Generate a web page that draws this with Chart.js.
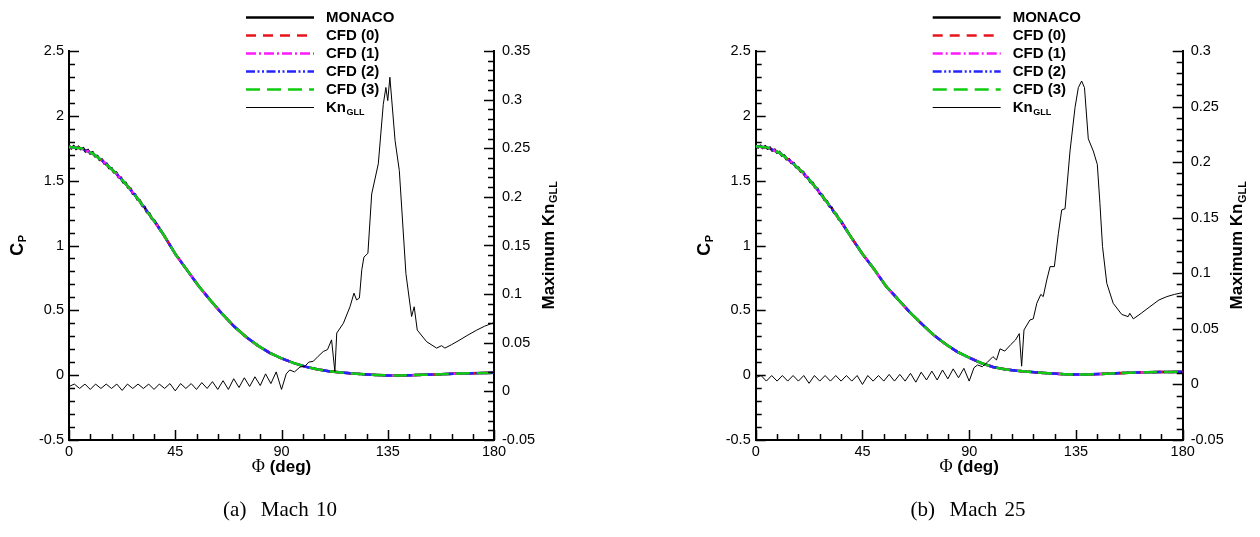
<!DOCTYPE html>
<html>
<head>
<meta charset="utf-8">
<script src="https://cdn.jsdelivr.net/npm/chart.js@4.4.1/dist/chart.umd.min.js"></script>
<style>
  html, body { margin: 0; padding: 0; background: #fff; }
  body { width: 1260px; height: 537px; position: relative; overflow: hidden; }
  .panel { position: absolute; top: 0; width: 630px; height: 537px; }
  #panelA { left: 0; }
  #panelB { left: 630px; }
  .caption { position: absolute; top: 497px; width: 260px; text-align: center; line-height: 26px;
             font: 21px 'Liberation Serif', 'DejaVu Serif', serif; color: #000; word-spacing: 2px; }
</style>
</head>
<body>
<div class="panel" id="panelA"><canvas id="chartA" width="630" height="537"></canvas></div>
<div class="panel" id="panelB"><canvas id="chartB" width="630" height="537"></canvas></div>
<div class="caption" style="left:150px">(a)&nbsp; Mach 10</div>
<div class="caption" style="left:838px">(b)&nbsp; Mach 25</div>
<script>
// surface angle for the CFD pressure curves (deg)
const phiCp = [0, 5, 10, 15, 20, 25, 30, 35, 40, 45, 50, 55, 60, 65, 70, 75, 80, 85, 90,
    95, 100, 105, 110, 115, 120, 125, 130, 135, 140, 145, 150, 155, 160, 165, 170, 175, 180];

const cpMach10 = [1.76, 1.75, 1.71, 1.64, 1.555, 1.455, 1.34, 1.215, 1.085, 0.935, 0.81, 0.685,
    0.575, 0.47, 0.375, 0.295, 0.228, 0.172, 0.13, 0.095, 0.066, 0.045, 0.031, 0.021, 0.013,
    0.007, 0.002, -0.002, -0.002, 0.0, 0.003, 0.006, 0.009, 0.012, 0.014, 0.016, 0.018];

const cpMach25 = [1.765, 1.755, 1.715, 1.645, 1.56, 1.455, 1.335, 1.21, 1.07, 0.935, 0.815, 0.685,
    0.585, 0.485, 0.395, 0.31, 0.24, 0.18, 0.135, 0.094, 0.063, 0.045, 0.034, 0.026, 0.019,
    0.013, 0.008, 0.005, 0.006, 0.009, 0.013, 0.017, 0.02, 0.022, 0.024, 0.025, 0.026];

// MONACO (DSMC) is a bit noisy near the stagnation point, sampled every degree there
const phiMonacoHead = [0, 1, 2, 3, 4, 5, 6, 7, 8, 9, 10, 11, 12, 13, 14, 15, 16, 17, 18,
    19, 20, 21, 22, 23, 24, 25, 26, 27, 28, 29, 30, 31, 32, 33, 34, 35, 36];

const monacoHead10 = [1.768, 1.75, 1.765, 1.746, 1.761, 1.743, 1.75, 1.726, 1.735, 1.71,
    1.718, 1.688, 1.69, 1.66, 1.663, 1.632, 1.631, 1.598, 1.597, 1.564, 1.563, 1.527, 1.523,
    1.487, 1.483, 1.447, 1.44, 1.401, 1.394, 1.355, 1.348, 1.308, 1.297, 1.258, 1.247, 1.209, 1.195];

const monacoHead25 = [1.773, 1.756, 1.769, 1.752, 1.764, 1.748, 1.754, 1.732, 1.738, 1.716,
    1.722, 1.694, 1.694, 1.666, 1.666, 1.638, 1.635, 1.604, 1.601, 1.57, 1.567, 1.532, 1.525,
    1.49, 1.483, 1.448, 1.438, 1.4, 1.39, 1.352, 1.342, 1.303, 1.292, 1.253, 1.242, 1.203, 1.188];

// maximum gradient-length Knudsen number (right axis)
const phiKn10 = [0, 2.25, 4.5, 6.75, 9, 11.25, 13.5, 15.75, 18, 20.25, 22.5, 24.75, 27, 29.25,
    31.5, 33.75, 36, 38.25, 40.5, 42.75, 45, 47.25, 49.5, 51.75, 54, 56.25, 58.5, 60.75, 63,
    65.25, 67.5, 69.75, 72, 74.25, 76.5, 78.75, 81, 83.25, 85.5, 87.75, 90, 92, 93.5, 95.5,
    97.8, 100, 101.5, 103.5, 105.5, 107.7, 109.5, 111.2, 112.6, 113.4, 116.2, 119, 120.7,
    121.8, 123, 124, 124.9, 126.6, 128.2, 131, 133.1, 134.2, 135, 135.9, 138.1, 139.9, 142.7,
    145.1, 146.2, 147.5, 151.5, 155.7, 157.8, 159.2, 162, 165.6, 169, 172.7, 176, 180];

const knMach10 = [0.005, 0.0075, 0.003, 0.0075, 0.002, 0.0075, 0.003, 0.0075, 0.003, 0.0075,
    0.001, 0.0075, 0.003, 0.0075, 0.003, 0.0075, 0.002, 0.0075, 0.003, 0.008, 0.0005, 0.008,
    0.003, 0.008, 0.002, 0.009, 0.003, 0.01, 0.002, 0.011, 0.002, 0.013, 0.004, 0.014, 0.005,
    0.015, 0.006, 0.018, 0.008, 0.02, 0.002, 0.018, 0.022, 0.02, 0.025, 0.026, 0.03, 0.031,
    0.036, 0.041, 0.043, 0.053, 0.0205, 0.06, 0.07, 0.087, 0.101, 0.094, 0.096, 0.125, 0.138,
    0.142, 0.203, 0.234, 0.295, 0.3125, 0.299, 0.323, 0.258, 0.227, 0.121, 0.077, 0.087,
    0.063, 0.051, 0.0445, 0.047, 0.0445, 0.048, 0.053, 0.058, 0.063, 0.067, 0.0707];

const phiKn25 = [0, 2.25, 4.5, 6.75, 9, 11.25, 13.5, 15.75, 18, 20.25, 22.5, 24.75, 27, 29.25,
    31.5, 33.75, 36, 38.25, 40.5, 42.75, 45, 47.25, 49.5, 51.75, 54, 56.25, 58.5, 60.75, 63,
    65.25, 67.5, 69.75, 72, 74.25, 76.5, 78.75, 81, 83.25, 85.5, 87.75, 90, 92, 93.5, 95.5,
    97.7, 100, 101.5, 103, 105, 107.6, 109.5, 111.1, 112.1, 113.1, 115.6, 117, 118.5, 120.2,
    121.2, 122.7, 124.1, 125.9, 127.6, 129, 130.4, 132.5, 134.6, 136, 137.4, 138.6, 140.2,
    142.3, 144, 145.1, 146.2, 148, 150.7, 154.3, 157, 157.7, 159.2, 162.5, 166.2, 170, 173.3,
    176.5, 180];

const knMach25 = [0.006, 0.008, 0.003, 0.008, 0.003, 0.008, 0.003, 0.008, 0.003, 0.008, 0.001,
    0.008, 0.003, 0.008, 0.003, 0.008, 0.003, 0.008, 0.003, 0.008, 0.0, 0.008, 0.003, 0.008,
    0.003, 0.009, 0.003, 0.009, 0.003, 0.01, 0.002, 0.011, 0.004, 0.012, 0.004, 0.013, 0.005,
    0.014, 0.006, 0.0145, 0.003, 0.015, 0.0175, 0.016, 0.02, 0.025, 0.022, 0.032, 0.03, 0.036,
    0.04, 0.0457, 0.0164, 0.049, 0.058, 0.059, 0.073, 0.081, 0.079, 0.094, 0.106, 0.106,
    0.136, 0.157, 0.158, 0.21, 0.249, 0.267, 0.273, 0.267, 0.221, 0.21, 0.198, 0.163, 0.124,
    0.091, 0.073, 0.063, 0.061, 0.064, 0.059, 0.064, 0.07, 0.076, 0.079, 0.081, 0.0826];

const legendLabels = ['MONACO', 'CFD (0)', 'CFD (1)', 'CFD (2)', 'CFD (3)', 'Kn_GLL'];
const xTicksDeg = { min: 0, max: 180, major: 45, minor: 9 };
const cpTicks = { min: -0.5, max: 2.5, major: 0.5, minor: 0.1 };
const knTicks10 = { min: -0.05, max: 0.35, major: 0.05, minor: 0.01 };
const knTicks25 = { min: -0.05, max: 0.3, major: 0.05, minor: 0.01 };

const sans = "'Liberation Sans', Arial, sans-serif";

function pts(xs, ys) {
    return xs.map((x, i) => ({ x: x, y: ys[i] }));
}

// "Kn_GLL" style text: main part plus a small lowered subscript
function drawSubText(ctx, text, x, y, size, align) {
    const parts = text.split('_');
    const main = parts[0];
    const sub = parts[1] || '';
    const subSize = Math.round(size * 0.62);
    ctx.font = 'bold ' + size + 'px ' + sans;
    const w1 = ctx.measureText(main).width;
    ctx.font = 'bold ' + subSize + 'px ' + sans;
    const w2 = sub ? ctx.measureText(sub).width : 0;
    const x0 = align === 'center' ? x - (w1 + w2) / 2 : x;
    ctx.textAlign = 'left';
    ctx.textBaseline = 'middle';
    ctx.font = 'bold ' + size + 'px ' + sans;
    ctx.fillText(main, x0, y);
    if (sub) {
        ctx.font = 'bold ' + subSize + 'px ' + sans;
        ctx.fillText(sub, x0 + w1 + 0.5, y + size * 0.3);
    }
}

// tecplot-like inward ticks, axis titles and the legend
const panelDecor = {
    id: 'panelDecor',
    afterDraw(chart, args, opts) {
        const ctx = chart.ctx;
        const area = chart.chartArea;
        const sx = chart.scales.x, sy = chart.scales.y, sy2 = chart.scales.y2;
        ctx.save();
        ctx.strokeStyle = '#000';
        ctx.fillStyle = '#000';
        ctx.lineWidth = 1.5;

        function ticks(spec, draw) {
            const n = Math.round((spec.max - spec.min) / spec.minor);
            const every = Math.round(spec.major / spec.minor);
            for (let i = 0; i <= n; i++) {
                draw(spec.min + i * spec.minor, i % every === 0 ? 10 : 6);
            }
        }
        ctx.beginPath();
        ticks(xTicksDeg, (v, len) => {
            const p = Math.round(sx.getPixelForValue(v)) + 0.5;
            ctx.moveTo(p, area.bottom); ctx.lineTo(p, area.bottom - len);
        });
        ticks(cpTicks, (v, len) => {
            const p = Math.round(sy.getPixelForValue(v)) + 0.5;
            ctx.moveTo(area.left, p); ctx.lineTo(area.left + len, p);
        });
        ticks(opts.knTicks, (v, len) => {
            const p = Math.round(sy2.getPixelForValue(v)) + 0.5;
            ctx.moveTo(area.right, p); ctx.lineTo(area.right - len, p);
        });
        ctx.stroke();

        // x title: serif Phi + bold "(deg)"
        const midX = (area.left + area.right) / 2;
        const ty = area.bottom + 27;
        ctx.font = '18px "Liberation Serif", serif';
        const wPhi = ctx.measureText('\u03A6').width;
        ctx.font = 'bold 17px ' + sans;
        const wDeg = ctx.measureText(' (deg)').width;
        const x0 = midX - (wPhi + wDeg) / 2;
        ctx.textBaseline = 'middle';
        ctx.textAlign = 'left';
        ctx.font = '18px "Liberation Serif", serif';
        ctx.fillText('\u03A6', x0, ty);
        ctx.font = 'bold 17px ' + sans;
        ctx.fillText(' (deg)', x0 + wPhi, ty);

        // rotated y titles
        const midY = (area.top + area.bottom) / 2;
        ctx.save();
        ctx.translate(area.left - 51, midY);
        ctx.rotate(-Math.PI / 2);
        drawSubText(ctx, 'C_P', 0, 0, 18, 'center');
        ctx.restore();
        ctx.save();
        ctx.translate(area.right + 55, midY);
        ctx.rotate(-Math.PI / 2);
        drawSubText(ctx, 'Maximum Kn_GLL', 0, 0, 17, 'center');
        ctx.restore();

        // legend, above the plot
        const lx = area.left + 177;
        chart.data.datasets.forEach((ds, i) => {
            const ly = 17.5 + 18 * i;
            ctx.save();
            ctx.strokeStyle = ds.borderColor;
            ctx.lineWidth = ds.borderWidth;
            ctx.setLineDash(ds.borderDash || []);
            ctx.beginPath();
            ctx.moveTo(lx, ly);
            ctx.lineTo(lx + 68, ly);
            ctx.stroke();
            ctx.restore();
            drawSubText(ctx, ds.label, lx + 80, ly + 0.5, 15, 'left');
        });
        ctx.restore();
    }
};

function chartFor(id, cp, head, phiKn, kn, knTicks, box) {
    const phiMonaco = phiMonacoHead.concat(phiCp.slice(8));
    const monaco = head.concat(cp.slice(8));
    const cfd = pts(phiCp, cp);
    const tickFont = { family: sans, size: 14.5 };
    const fmt = v => String(Number(v.toFixed(2)));
    return new Chart(document.getElementById(id).getContext('2d'), {
        type: 'line',
        data: {
            datasets: [
                { label: legendLabels[0], data: pts(phiMonaco, monaco), borderColor: '#000000',
                  borderWidth: 2.5, order: 6 },
                { label: legendLabels[1], data: cfd, borderColor: '#e8141c',
                  borderWidth: 2.5, borderDash: [10, 7], order: 5 },
                { label: legendLabels[2], data: cfd, borderColor: '#ff1aff',
                  borderWidth: 2.5, borderDash: [10, 3, 2, 3], order: 4 },
                { label: legendLabels[3], data: cfd, borderColor: '#2424ff',
                  borderWidth: 2.5, borderDash: [9, 2.5, 2, 2.5, 2, 2.5], order: 3 },
                { label: legendLabels[4], data: cfd, borderColor: '#10cc10',
                  borderWidth: 2.5, borderDash: [14, 7], order: 2 },
                { label: legendLabels[5], data: pts(phiKn, kn), borderColor: '#000000',
                  borderWidth: 1, yAxisID: 'y2', order: 1 }
            ]
        },
        options: {
            responsive: false,
            animation: false,
            events: [],
            elements: { point: { radius: 0 }, line: { tension: 0 } },
            layout: { padding: { top: 51, left: 0, right: 0, bottom: 0 } },
            plugins: { legend: { display: false }, tooltip: { enabled: false },
                       panelDecor: { knTicks: knTicks } },
            scales: {
                x: {
                    type: 'linear', min: xTicksDeg.min, max: xTicksDeg.max,
                    grid: { display: false, drawTicks: false },
                    border: { display: true, color: '#000', width: 2 },
                    ticks: { stepSize: xTicksDeg.major, color: '#000', font: tickFont,
                             padding: 3, maxRotation: 0, callback: fmt },
                    afterFit: s => { s.height = 97; }
                },
                y: {
                    type: 'linear', position: 'left', min: cpTicks.min, max: cpTicks.max,
                    grid: { display: false, drawTicks: false },
                    border: { display: true, color: '#000', width: 2 },
                    ticks: { stepSize: cpTicks.major, color: '#000', font: tickFont,
                             padding: 5, callback: fmt },
                    afterFit: s => { s.width = box.leftW; }
                },
                y2: {
                    type: 'linear', position: 'right', min: knTicks.min, max: knTicks.max,
                    grid: { display: false, drawTicks: false },
                    border: { display: true, color: '#000', width: 2 },
                    ticks: { stepSize: knTicks.major, color: '#000', font: tickFont,
                             padding: 8, callback: fmt },
                    afterFit: s => { s.width = box.rightW; }
                }
            }
        },
        plugins: [panelDecor]
    });
}

// plot boxes: panel a 69..494, panel b 755.7..1182.7 (its canvas starts at 630)
chartFor('chartA', cpMach10, monacoHead10, phiKn10, knMach10, knTicks10, { leftW: 69, rightW: 136 });
chartFor('chartB', cpMach25, monacoHead25, phiKn25, knMach25, knTicks25, { leftW: 125.7, rightW: 77.3 });
</script>
</body>
</html>
